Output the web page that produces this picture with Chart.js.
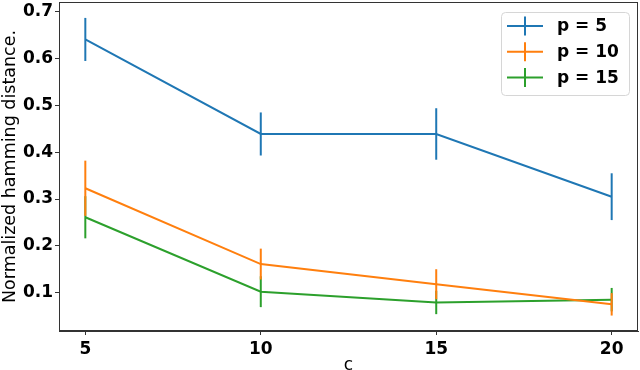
<!DOCTYPE html>
<html>
<head>
<meta charset="utf-8">
<script src="https://cdn.jsdelivr.net/npm/chart.js@4/dist/chart.umd.min.js"></script>
<style>
    html, body { margin: 0; padding: 0; background: #fff; }
    #wrap { width: 640px; height: 370px; }
</style>
</head>
<body>
<div id="wrap"><canvas id="hammingChart" width="640" height="370"></canvas></div>
<script>
// values
const cValues = [5, 10, 15, 20];
const xTicks = [5, 10, 15, 20];
const yTicks = [0.1, 0.2, 0.3, 0.4, 0.5, 0.6, 0.7];

const seriesLabels = ["p = 5", "p = 10", "p = 15"];
const seriesColors = ["#1f77b4", "#ff7f0e", "#2ca02c"];

const meanP5 = [0.641, 0.439, 0.439, 0.305];
const meanP10 = [0.323, 0.161, 0.118, 0.075];
const meanP15 = [0.261, 0.102, 0.079, 0.085];

const errP5 = [0.046, 0.046, 0.055, 0.050];
const errP10 = [0.059, 0.033, 0.032, 0.024];
const errP15 = [0.045, 0.033, 0.025, 0.025];

const means = [meanP5, meanP10, meanP15];
const errs = [errP5, errP10, errP15];

const FONT = "'DejaVu Sans', sans-serif";

document.addEventListener("DOMContentLoaded", () => {
    const datasets = means.map((m, i) => ({
        label: seriesLabels[i],
        data: cValues.map((c, j) => ({ x: c, y: m[j] })),
        err: errs[i],
        borderColor: seriesColors[i],
        backgroundColor: seriesColors[i],
        borderWidth: 2,
        pointRadius: 0,
        tension: 0,
        fill: false,
    }));

    // vertical error bars, drawn right after each dataset's line
    const errorBars = {
        id: "errorBars",
        afterDatasetDraw(chart, args) {
            const ds = chart.data.datasets[args.index];
            const { ctx, scales } = chart;
            ctx.save();
            ctx.strokeStyle = ds.borderColor;
            ctx.lineWidth = 2;
            ds.data.forEach((pt, j) => {
                const px = scales.x.getPixelForValue(pt.x);
                const top = scales.y.getPixelForValue(pt.y + ds.err[j]);
                const bot = scales.y.getPixelForValue(pt.y - ds.err[j]);
                ctx.beginPath();
                ctx.moveTo(px, top);
                ctx.lineTo(px, bot);
                ctx.stroke();
            });
            ctx.restore();
        },
    };

    // box around the plot area (matplotlib spines)
    const frame = {
        id: "frame",
        afterDraw(chart) {
            const { ctx, chartArea: a } = chart;
            ctx.save();
            ctx.strokeStyle = "#333";
            ctx.lineWidth = 1;
            ctx.strokeRect(a.left + 0.5, a.top + 0.5, a.right - a.left - 1, a.bottom - a.top - 1);
            ctx.restore();
        },
    };

    // legend box in the top right corner
    const legendBox = {
        id: "legendBox",
        afterDraw(chart) {
            const ctx = chart.ctx;
            const x0 = 501, y0 = 12, w = 128, h = 83;
            ctx.save();
            ctx.fillStyle = "rgba(255,255,255,0.85)";
            ctx.strokeStyle = "#d6d6d6";
            ctx.lineWidth = 1;
            ctx.beginPath();
            ctx.roundRect(x0 + 0.5, y0 + 0.5, w, h, 4);
            ctx.fill();
            ctx.stroke();
            const rows = [26, 51.8, 77.6];
            chart.data.datasets.forEach((ds, i) => {
                const y = rows[i];
                ctx.strokeStyle = ds.borderColor;
                ctx.lineWidth = 2;
                ctx.beginPath();
                ctx.moveTo(507, y);
                ctx.lineTo(543, y);
                ctx.moveTo(525, y - 9.5);
                ctx.lineTo(525, y + 9.5);
                ctx.stroke();
                ctx.fillStyle = "#000";
                ctx.font = "bold 17px " + FONT;
                ctx.textAlign = "left";
                ctx.textBaseline = "middle";
                ctx.fillText(ds.label, 557, y + 1);
            });
            ctx.restore();
        },
    };

    const ctx = document.getElementById("hammingChart").getContext("2d");
    new Chart(ctx, {
        type: "line",
        data: { datasets },
        plugins: [errorBars, frame, legendBox],
        options: {
            responsive: false,
            animation: false,
            layout: { padding: { top: 2, right: 2, left: 0, bottom: 0 } },
            plugins: {
                legend: { display: false },
                tooltip: { enabled: false },
            },
            scales: {
                x: {
                    type: "linear",
                    min: 4.25,
                    max: 20.75,
                    afterBuildTicks: (scale) => {
                        scale.ticks = xTicks.map((v) => ({ value: v }));
                    },
                    afterFit: (scale) => {
                        scale.height = 39;
                        scale.paddingLeft = 0;
                        scale.paddingRight = 0;
                    },
                    grid: { display: true, drawOnChartArea: false, drawTicks: true, tickLength: 4, color: "#333" },
                    border: { display: true, color: "#333" },
                    ticks: {
                        color: "#000",
                        padding: 4,
                        maxRotation: 0,
                        font: { family: FONT, size: 17, weight: "bold" },
                    },
                    title: {
                        display: true,
                        text: "c",
                        color: "#000",
                        padding: { top: 0, bottom: -6 },
                        font: { family: FONT, size: 17 },
                    },
                },
                y: {
                    type: "linear",
                    min: 0.018,
                    max: 0.721,
                    afterBuildTicks: (scale) => {
                        scale.ticks = yTicks.map((v) => ({ value: v }));
                    },
                    afterFit: (scale) => {
                        scale.width = 59;
                        scale.paddingTop = 0;
                        scale.paddingBottom = 0;
                    },
                    grid: { display: true, drawOnChartArea: false, drawTicks: true, tickLength: 4, color: "#333" },
                    border: { display: true, color: "#333" },
                    ticks: {
                        color: "#000",
                        padding: 2,
                        callback: (v) => v.toFixed(1),
                        font: { family: FONT, size: 17, weight: "bold" },
                    },
                    title: {
                        display: true,
                        text: "Normalized hamming distance.",
                        color: "#000",
                        padding: 0,
                        font: { family: FONT, size: 17.5 },
                    },
                },
            },
        },
    });
});
</script>
</body>
</html>
